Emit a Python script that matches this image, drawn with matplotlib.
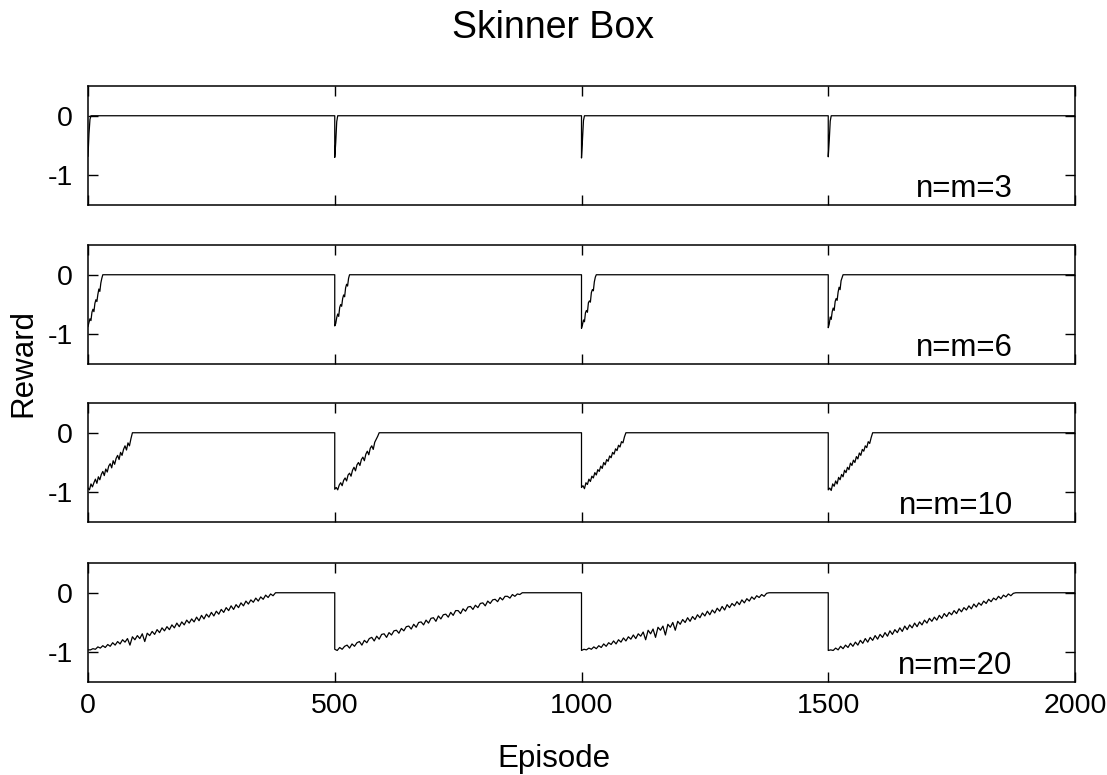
import matplotlib.pyplot as plt

plt.rcParams['font.family'] = ['Liberation Sans', 'DejaVu Sans']
plt.rcParams['axes.unicode_minus'] = False

cycle_starts = [0, 500, 1000, 1500]
last_episode = 2000
panel_labels = ["n=m=3", "n=m=6", "n=m=10", "n=m=20"]
sample_step = [2, 2, 3, 5]  # episodes between recorded values while reward < 0

# reward at the start of each block, until it reaches 0 (then it stays 0)
rise_3 = [
    [-0.68, -0.30, -0.06, 0.0],
    [-0.70, -0.45, -0.10, 0.0],
    [-0.71, -0.40, -0.08, 0.0],
    [-0.69, -0.42, -0.09, 0.0],
]

rise_6 = [
    [-0.87, -0.80, -0.74, -0.77, -0.63, -0.58, -0.62, -0.48, -0.42, -0.45, -0.33, -0.24, -0.28, -0.14, -0.06, 0.0],
    [-0.86, -0.82, -0.72, -0.66, -0.70, -0.55, -0.50, -0.53, -0.40, -0.34, -0.37, -0.22, -0.16, -0.19, -0.06, 0.0],
    [-0.90, -0.84, -0.76, -0.79, -0.64, -0.60, -0.63, -0.47, -0.44, -0.46, -0.30, -0.25, -0.27, -0.12, -0.04, 0.0],
    [-0.89, -0.83, -0.71, -0.75, -0.62, -0.56, -0.60, -0.45, -0.40, -0.43, -0.29, -0.21, -0.25, -0.10, -0.05, 0.0],
]

rise_10 = [
    [-0.93, -0.96, -0.86, -0.91, -0.84, -0.78, -0.85, -0.74, -0.79, -0.70, -0.65,
     -0.72, -0.61, -0.66, -0.56, -0.52, -0.59, -0.47, -0.53, -0.43, -0.38,
     -0.45, -0.33, -0.38, -0.28, -0.22, -0.29, -0.17, -0.22, -0.10, 0.0],
    [-0.95, -0.92, -0.96, -0.88, -0.84, -0.89, -0.80, -0.76, -0.81, -0.71, -0.68,
     -0.73, -0.63, -0.58, -0.64, -0.54, -0.50, -0.55, -0.45, -0.41, -0.47,
     -0.36, -0.31, -0.37, -0.26, -0.22, -0.28, -0.16, -0.11, -0.06, 0.0],
    [-0.92, -0.89, -0.94, -0.84, -0.87, -0.78, -0.82, -0.73, -0.76, -0.67, -0.71,
     -0.62, -0.65, -0.56, -0.60, -0.50, -0.54, -0.45, -0.48, -0.39, -0.42,
     -0.33, -0.36, -0.27, -0.30, -0.21, -0.24, -0.15, -0.17, -0.07, 0.0],
    [-0.96, -0.93, -0.97, -0.86, -0.90, -0.81, -0.86, -0.75, -0.79, -0.70, -0.74,
     -0.63, -0.67, -0.58, -0.62, -0.51, -0.55, -0.46, -0.50, -0.40, -0.44,
     -0.34, -0.38, -0.28, -0.31, -0.22, -0.25, -0.15, -0.18, -0.08, 0.0],
]

rise_20 = [
    [-0.96, -0.96, -0.94, -0.95, -0.91, -0.93, -0.89, -0.92, -0.87, -0.90, -0.84,
     -0.88, -0.82, -0.86, -0.79, -0.83, -0.77, -0.88, -0.74, -0.79, -0.72,
     -0.77, -0.69, -0.82, -0.68, -0.72, -0.65, -0.70, -0.62, -0.67, -0.59,
     -0.64, -0.57, -0.62, -0.54, -0.59, -0.51, -0.57, -0.49, -0.54, -0.46,
     -0.51, -0.44, -0.49, -0.41, -0.47, -0.38, -0.44, -0.36, -0.41, -0.33,
     -0.39, -0.31, -0.36, -0.28, -0.33, -0.25, -0.30, -0.22, -0.28, -0.20,
     -0.25, -0.17, -0.22, -0.14, -0.19, -0.12, -0.16, -0.09, -0.14, -0.07,
     -0.11, -0.04, -0.08, -0.02, -0.05, 0.0],
    [-0.95, -0.97, -0.92, -0.95, -0.90, -0.88, -0.93, -0.86, -0.90, -0.84, -0.82,
     -0.88, -0.80, -0.84, -0.77, -0.75, -0.81, -0.73, -0.78, -0.70, -0.69,
     -0.75, -0.67, -0.71, -0.64, -0.63, -0.68, -0.60, -0.64, -0.57, -0.56,
     -0.61, -0.53, -0.58, -0.50, -0.49, -0.54, -0.46, -0.51, -0.43, -0.42,
     -0.48, -0.39, -0.44, -0.37, -0.36, -0.41, -0.33, -0.38, -0.30, -0.30,
     -0.35, -0.27, -0.31, -0.24, -0.23, -0.28, -0.21, -0.25, -0.18, -0.17,
     -0.22, -0.14, -0.18, -0.12, -0.11, -0.15, -0.08, -0.12, -0.06, -0.06,
     -0.09, -0.03, -0.06, -0.02, -0.03, 0.0],
    [-0.97, -0.95, -0.96, -0.93, -0.95, -0.91, -0.94, -0.89, -0.92, -0.86, -0.90,
     -0.84, -0.87, -0.81, -0.86, -0.79, -0.83, -0.76, -0.81, -0.74, -0.78,
     -0.71, -0.77, -0.69, -0.73, -0.66, -0.79, -0.63, -0.69, -0.61, -0.75,
     -0.58, -0.63, -0.56, -0.71, -0.53, -0.58, -0.50, -0.63, -0.48, -0.53,
     -0.45, -0.50, -0.42, -0.48, -0.40, -0.45, -0.37, -0.42, -0.34, -0.39,
     -0.31, -0.37, -0.29, -0.34, -0.26, -0.31, -0.23, -0.29, -0.20, -0.25,
     -0.18, -0.22, -0.15, -0.20, -0.12, -0.17, -0.10, -0.14, -0.07, -0.11,
     -0.05, -0.08, -0.03, -0.06, -0.01, 0.0],
    [-0.97, -0.96, -0.97, -0.93, -0.96, -0.90, -0.94, -0.88, -0.92, -0.85, -0.90,
     -0.83, -0.88, -0.80, -0.85, -0.77, -0.83, -0.75, -0.80, -0.72, -0.78,
     -0.70, -0.75, -0.67, -0.73, -0.64, -0.70, -0.62, -0.67, -0.59, -0.65,
     -0.56, -0.62, -0.54, -0.59, -0.51, -0.57, -0.49, -0.54, -0.46, -0.51,
     -0.43, -0.48, -0.41, -0.46, -0.38, -0.43, -0.35, -0.40, -0.33, -0.37,
     -0.30, -0.35, -0.27, -0.32, -0.25, -0.29, -0.22, -0.27, -0.19, -0.24,
     -0.17, -0.21, -0.14, -0.18, -0.11, -0.15, -0.09, -0.12, -0.06, -0.10,
     -0.04, -0.07, -0.02, -0.05, -0.01, 0.0],
]

all_rises = [rise_3, rise_6, rise_10, rise_20]


def build_curve(rises, step):
    xs, ys = [], []
    for k, start in enumerate(cycle_starts):
        vals = rises[k]
        xs += [start + step * i for i in range(len(vals))]
        ys += vals
        end = cycle_starts[k + 1] if k + 1 < len(cycle_starts) else last_episode
        xs.append(end)
        ys.append(0.0)
    return xs, ys


fig = plt.figure(figsize=(11.07, 7.75), dpi=100)
left, width, height = 88 / 1107, 987 / 1107, 119 / 775
bottoms = [1 - 205 / 775, 1 - 364 / 775, 1 - 522 / 775, 1 - 682 / 775]

for i, rises in enumerate(all_rises):
    ax = fig.add_axes([left, bottoms[i], width, height])
    xs, ys = build_curve(rises, sample_step[i])
    ax.plot(xs, ys, color="black", lw=0.9)
    ax.set_xlim(0, 2000)
    ax.set_ylim(-1.5, 0.5)
    ax.set_xticks([0, 500, 1000, 1500, 2000])
    ax.set_yticks([0, -1])
    ax.set_yticklabels(["0", "-1"])
    ax.tick_params(direction="in", top=True, right=True, length=7, width=1,
                   labelsize=20.5, colors="black")
    ax.tick_params(axis="y", pad=11)
    ax.tick_params(axis="x", pad=8, labelbottom=(i == 3))
    for sp in ax.spines.values():
        sp.set_linewidth(1.1)
    ax.text(0.937, 0.067, panel_labels[i], transform=ax.transAxes,
            ha="right", va="baseline", fontsize=22.5)

fig.text(0.5, 0.9645, "Skinner Box", ha="center", va="center", fontsize=27)
fig.text(0.5, 0.0103, "Episode", ha="center", va="baseline", fontsize=22.5)
fig.text(0.021, 0.532, "Reward", ha="center", va="center", rotation=90, fontsize=22.5)

fig.savefig("out.png", dpi=100)
